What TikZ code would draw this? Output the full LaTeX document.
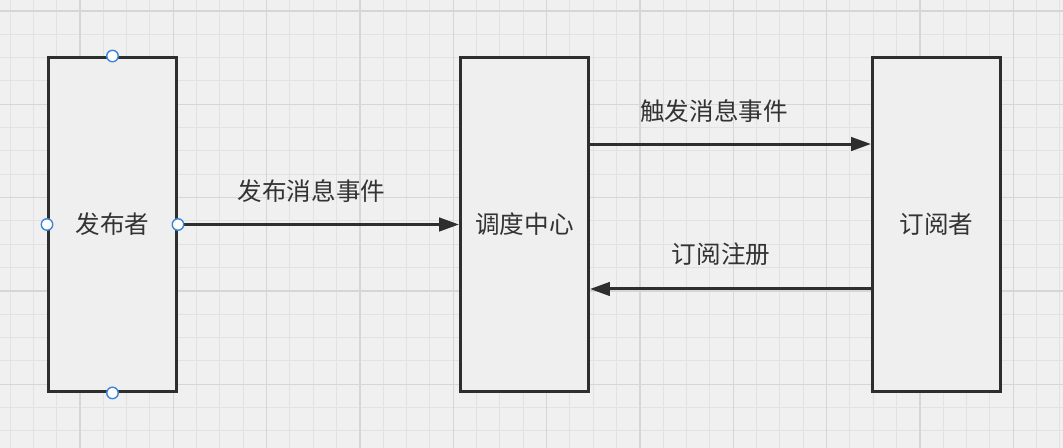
\documentclass[tikz,border=0pt]{standalone}
\usepackage{fontspec}
\setmainfont{Noto Sans CJK SC}
\usepackage{xcolor}
\usetikzlibrary{arrows.meta, positioning}

\definecolor{bgfill}{HTML}{F0F0F0}
\definecolor{gridminor}{HTML}{E2E2E2}
\definecolor{gridmajor}{HTML}{D6D6D6}
\definecolor{boxfill}{HTML}{EFEFEF}
\definecolor{boxline}{HTML}{2E2E2E}
\definecolor{txt}{HTML}{333333}
\definecolor{portblue}{HTML}{3D85D8}

\begin{document}
\begin{tikzpicture}[x=0.02cm, y=-0.02cm,
    box/.style={draw=boxline, fill=boxfill, line width=1.7pt, minimum width=2.56cm,
                minimum height=6.68cm, inner sep=0pt, text=txt, font=\fontsize{14}{16}\selectfont},
    lbl/.style={text=txt, inner sep=0pt, font=\fontsize{14}{16}\selectfont},
    flow/.style={draw=boxline, line width=1.7pt, -{Triangle[length=0.4cm, width=0.27cm]}},
    port/.style={circle, draw=portblue, fill=white, line width=0.8pt, minimum size=0.23cm, inner sep=0pt}]
  \useasboundingbox (0,0) rectangle (1063,448);

  % background grid
  \fill[bgfill] (0,0) rectangle (1063,448);
  \foreach \i in {0,...,45} \draw[gridminor, line width=0.55pt] ({10+23.33*\i},0) -- ++(0,448);
  \foreach \j in {0,...,19} \draw[gridminor, line width=0.55pt] (0,{11+23.33*\j}) -- ++(1063,0);
  \foreach \i in {0,...,11} \draw[gridmajor, line width=0.65pt] ({80+93.33*\i},0) -- ++(0,448);
  \foreach \j in {0,...,4} \draw[gridmajor, line width=0.65pt] (0,{11+93.33*\j}) -- ++(1063,0);

  % boxes
  \node[box] (pub) at (112.5,224.5) {发布者};
  \node[box] (hub) at (524.5,224.5) {调度中心};
  \node[box] (sub) at (936.5,224.5) {订阅者};

  % connectors
  \draw[flow] (pub.east) -- (hub.west);
  \draw[flow] ([yshift=1.61cm]hub.east) -- ([yshift=1.61cm]sub.west);
  \draw[flow] ([yshift=-1.29cm]sub.west) -- ([yshift=-1.29cm]hub.east);

  \node[lbl] (pubMsg) at (311.5,191) {发布消息事件};
  \node[lbl] (fireMsg) at (714,111) {触发消息事件};
  \node[lbl] (subReg) at (721,254) {订阅注册};

  % connection points
  \node[port] (pubN) at (pub.north) {};
  \node[port] (pubS) at (pub.south) {};
  \node[port] (pubW) at (pub.west) {};
  \node[port] (pubE) at (pub.east) {};
\end{tikzpicture}
\end{document}
